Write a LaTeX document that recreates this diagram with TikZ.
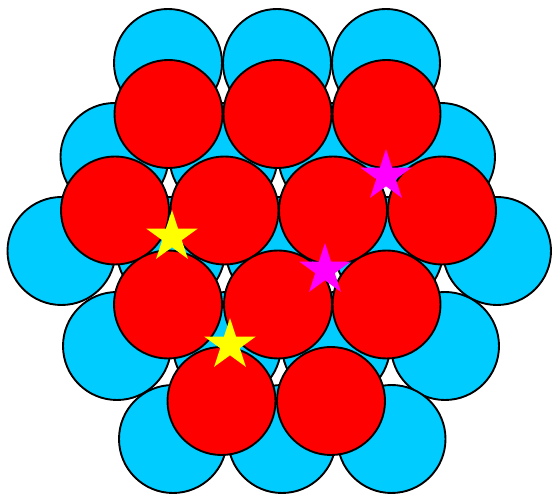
\documentclass[tikz,border=0pt]{standalone}
\definecolor{ballblue}{RGB}{0,204,255}
\definecolor{ballred}{RGB}{255,0,0}
\definecolor{staryellow}{RGB}{255,255,0}
\definecolor{starmagenta}{RGB}{255,0,255}
\newcommand\mystar[2]{\fill[#2] #1 +(90:27pt) -- +(126:10.3pt) -- +(162:27pt) -- +(198:10.3pt) -- +(234:27pt) -- +(270:10.3pt) -- +(306:27pt) -- +(342:10.3pt) -- +(18:27pt) -- +(54:10.3pt) -- cycle;}
\begin{document}
\begin{tikzpicture}[x=1pt,y=-1pt,
  ball/.style={draw=black,line width=1.9pt}]
\useasboundingbox (0,0) rectangle (552,494);
% bottom layer (blue)
\foreach \x/\y in {168/63,277/63,386/63,
                   114.5/157,223.5/157,332.5/157,441/157,
                   61.5/251,171/251,280/251,389/251,497/251,
                   117/346,227/346,336/346,445/346,
                   173/439,282/439,391.5/439}
  \filldraw[ball,fill=ballblue] (\x,\y) circle[radius=54pt];
% top layer (red)
\foreach \x/\y in {168.5/114,277.5/114,386.5/114,
                   115/210.5,224.5/210.5,333/210.5,442/210.5,
                   168/304.5,278/304.5,386.5/304.5,
                   221.5/401,331/401}
  \filldraw[ball,fill=ballred] (\x,\y) circle[radius=54pt];
% stars
\mystar{(172,237)}{staryellow}
\mystar{(230,345)}{staryellow}
\mystar{(386,176)}{starmagenta}
\mystar{(325,270)}{starmagenta}
\end{tikzpicture}
\end{document}
